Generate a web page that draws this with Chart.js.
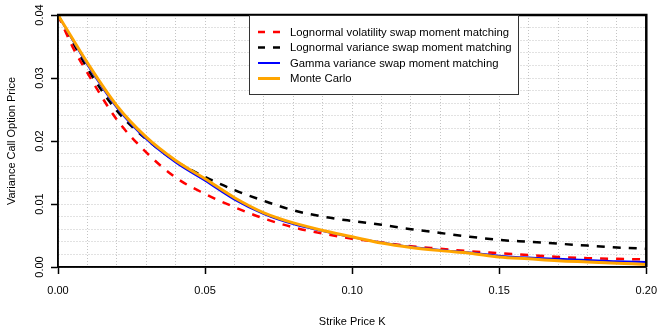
<!DOCTYPE html>
<html>
<head>
<meta charset="utf-8">
<script src="https://cdn.jsdelivr.net/npm/chart.js@4/dist/chart.umd.min.js"></script>
<style>
html,body{margin:0;padding:0;background:#fff;}
#wrap{width:667px;height:333px;}
</style>
</head>
<body>
<div id="wrap"><canvas id="c" width="667" height="333"></canvas></div>
<script>
const strikes = [0, 0.005, 0.01, 0.02, 0.03, 0.04, 0.05, 0.06, 0.07, 0.08, 0.09, 0.10, 0.11, 0.12, 0.13, 0.14, 0.15, 0.16, 0.17, 0.18, 0.19, 0.20];
const lognormalVol = [0.0400, 0.0349, 0.0308, 0.0234, 0.0182, 0.0142, 0.0116, 0.0095, 0.0077, 0.0063, 0.0053, 0.0045, 0.0039, 0.0033, 0.0029, 0.0025, 0.0022, 0.0019, 0.0016, 0.0014, 0.0013, 0.0012];
const lognormalVar = [0.0400, 0.0357, 0.0315, 0.0248, 0.0203, 0.0168, 0.0143, 0.0122, 0.0105, 0.0090, 0.0080, 0.0073, 0.0067, 0.0060, 0.0054, 0.0048, 0.0043, 0.0040, 0.0037, 0.0034, 0.0031, 0.0029];
const gammaVar = [0.0400, 0.0360, 0.0321, 0.0253, 0.0203, 0.0166, 0.0137, 0.0107, 0.0084, 0.0068, 0.0057, 0.0047, 0.0039, 0.0032, 0.0027, 0.0023, 0.0018, 0.0015, 0.0013, 0.0011, 0.0009, 0.0008];
const monteCarlo = [0.0400, 0.0362, 0.0324, 0.0256, 0.0206, 0.0169, 0.0140, 0.0110, 0.0086, 0.0070, 0.0058, 0.0048, 0.0038, 0.0031, 0.0026, 0.0022, 0.0016, 0.0013, 0.0010, 0.0008, 0.0006, 0.0004];
const seriesNames = ["Lognormal volatility swap moment matching", "Lognormal variance swap moment matching", "Gamma variance swap moment matching", "Monte Carlo"];
const xTickLabels = ["0.00", "0.05", "0.10", "0.15", "0.20"];
const yTickLabels = ["0.00", "0.01", "0.02", "0.03", "0.04"];

const FONT = "'Liberation Sans', Arial, sans-serif";
const pts = arr => arr.map((v, i) => ({x: strikes[i], y: v}));
const isMult = (v, m) => Math.abs(v / m - Math.round(v / m)) < 1e-6;

const styles = [
  {color: '#FF0000', width: 2.5, dash: [8, 8], order: 2},
  {color: '#000000', width: 2.5, dash: [8, 8], order: 3},
  {color: '#0000FF', width: 2, dash: [], order: 1},
  {color: '#FFA500', width: 3, dash: [], order: 0}
];
const values = [lognormalVol, lognormalVar, gammaVar, monteCarlo];

const datasets = values.map((v, i) => ({
  label: seriesNames[i],
  data: pts(v),
  borderColor: styles[i].color,
  borderWidth: styles[i].width,
  borderDash: styles[i].dash,
  order: styles[i].order,
  pointRadius: 0,
  fill: false,
  cubicInterpolationMode: 'monotone'
}));

const framePlugin = {
  id: 'frame',
  afterDatasetsDraw(chart) {
    const {ctx, chartArea: a} = chart;
    ctx.save();
    ctx.setLineDash([]);
    ctx.strokeStyle = '#000';
    ctx.lineWidth = 1.5;
    ctx.beginPath();
    ctx.moveTo(a.left, a.top); ctx.lineTo(a.left, a.bottom);
    ctx.moveTo(a.left, a.bottom); ctx.lineTo(a.right, a.bottom);
    ctx.stroke();
    ctx.lineWidth = 2.5;
    ctx.beginPath();
    ctx.moveTo(a.left - 1, a.top);
    ctx.lineTo(a.right, a.top);
    ctx.lineTo(a.right, a.bottom);
    ctx.stroke();
    // legend
    const lx = 249, ly = a.top, lw = 269, lh = 79;
    ctx.fillStyle = '#fff';
    ctx.fillRect(lx, ly + 1, lw, lh - 1);
    ctx.strokeStyle = '#333';
    ctx.lineWidth = 1;
    ctx.strokeRect(lx + 0.5, ly + 0.5, lw, lh);
    ctx.font = '11.3px ' + FONT;
    ctx.textBaseline = 'middle';
    ctx.textAlign = 'left';
    const rowY = [32, 47.5, 63, 78.5];
    seriesNames.forEach((name, i) => {
      const y = rowY[i];
      ctx.strokeStyle = styles[i].color;
      ctx.lineWidth = styles[i].width;
      ctx.setLineDash(styles[i].dash.length ? [7, 8] : []);
      ctx.beginPath();
      ctx.moveTo(258, y);
      ctx.lineTo(280, y);
      ctx.stroke();
      ctx.setLineDash([]);
      ctx.fillStyle = '#000';
      ctx.fillText(name, 290, y + 0.5);
    });
    ctx.restore();
  }
};

const gridOpts = (major) => ({
  color: '#c4c4c4',
  lineWidth: 1,
  drawTicks: true,
  tickLength: 7,
  tickColor: c => (c.tick && isMult(c.tick.value, major)) ? '#000' : 'rgba(0,0,0,0)',
  tickWidth: 1.5,
  tickBorderDash: [],
  tickBorderDashOffset: 0
});

new Chart(document.getElementById('c'), {
  type: 'line',
  data: {datasets},
  plugins: [framePlugin],
  options: {
    responsive: false,
    animation: false,
    devicePixelRatio: 1,
    layout: {padding: {top: 15, right: 14, left: 0, bottom: 0}},
    plugins: {legend: {display: false}, tooltip: {enabled: false}},
    scales: {
      x: {
        type: 'linear',
        min: 0, max: 0.2,
        afterFit(s) { s.height = 66; },
        ticks: {
          stepSize: 0.01,
          autoSkip: false,
          maxRotation: 0,
          padding: 10,
          color: '#000',
          font: {family: FONT, size: 11},
          callback: v => isMult(v, 0.05) ? xTickLabels[Math.round(v / 0.05)] : ''
        },
        grid: gridOpts(0.05),
        border: {display: true, color: '#000', width: 1.5, dash: [1, 2]},
        title: {
          display: true, text: 'Strike Price K', color: '#000',
          font: {family: FONT, size: 11}, padding: {top: 0, bottom: 4}
        }
      },
      y: {
        type: 'linear',
        min: 0, max: 0.04,
        afterFit(s) { s.width = 58; },
        ticks: {
          stepSize: 0.002,
          autoSkip: false,
          minRotation: 90,
          maxRotation: 90,
          crossAlign: 'center',
          padding: 0,
          color: '#000',
          font: {family: FONT, size: 11},
          callback: v => isMult(v, 0.01) ? yTickLabels[Math.round(v / 0.01)] : ''
        },
        grid: gridOpts(0.01),
        border: {display: true, color: '#000', width: 1.5, dash: [1, 2]},
        title: {
          display: true, text: 'Variance Call Option Price', color: '#000',
          font: {family: FONT, size: 11}, padding: {top: 5, bottom: 0}
        }
      }
    }
  }
});
</script>
</body>
</html>
